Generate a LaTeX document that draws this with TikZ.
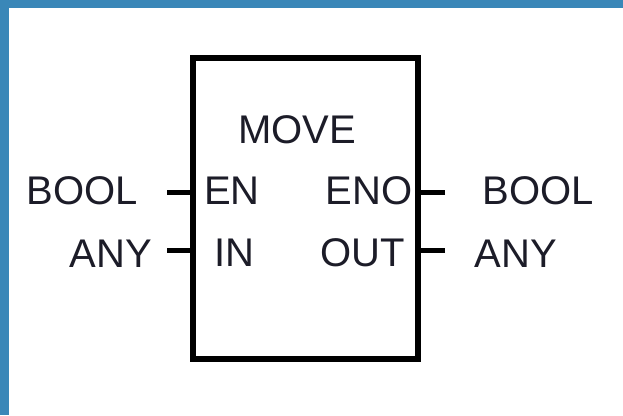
\documentclass[tikz,border=0pt]{standalone}
\usepackage{fontspec}
\setmainfont{Liberation Sans}
\definecolor{frameblue}{HTML}{3A87B8}
\definecolor{ink}{HTML}{1C1C28}
\begin{document}
\begin{tikzpicture}[x=1pt,y=-1pt,
    lbl/.style={font=\fontsize{40}{48}\selectfont,text=ink,inner sep=0pt,anchor=base},
    fbd/.style={draw,line width=6pt,minimum width=225pt,minimum height=301pt,inner sep=0pt},
    pin/.style={line width=5pt}]
        \useasboundingbox (0,0) rectangle (623,415);

        %%%%%%%% Cornice %%%%%%%%
        \fill[frameblue] (0,0) rectangle (623,8);
        \fill[frameblue] (0,0) rectangle (9,415);

        %%%%%%%% Blocco %%%%%%%%
        \node[fbd] (move) at (305.5,208.5) {};
        \node[lbl] (name) at (297,143) {MOVE};
        \node[lbl] (en) at (232,204) {EN};
        \node[lbl] (in) at (234,266) {IN};
        \node[lbl] (eno) at (369,204) {ENO};
        \node[lbl] (out) at (363,266) {OUT};

        %%%%%%%% Tipi %%%%%%%%
        \node[lbl] (entype) at (82,204) {BOOL};
        \node[lbl] (intype) at (111,267) {ANY};
        \node[lbl] (enotype) at (538,204) {BOOL};
        \node[lbl] (outtype) at (516,267) {ANY};

        %%%%%%%% Pin %%%%%%%%
        \coordinate (enpin) at (167,192);
        \coordinate (inpin) at (167,250);
        \coordinate (enopin) at (445,192);
        \coordinate (outpin) at (445,250);
        \draw[pin] (enpin) -- (enpin -| move.west);
        \draw[pin] (inpin) -- (inpin -| move.west);
        \draw[pin] (enopin) -- (enopin -| move.east);
        \draw[pin] (outpin) -- (outpin -| move.east);
\end{tikzpicture}
\end{document}
